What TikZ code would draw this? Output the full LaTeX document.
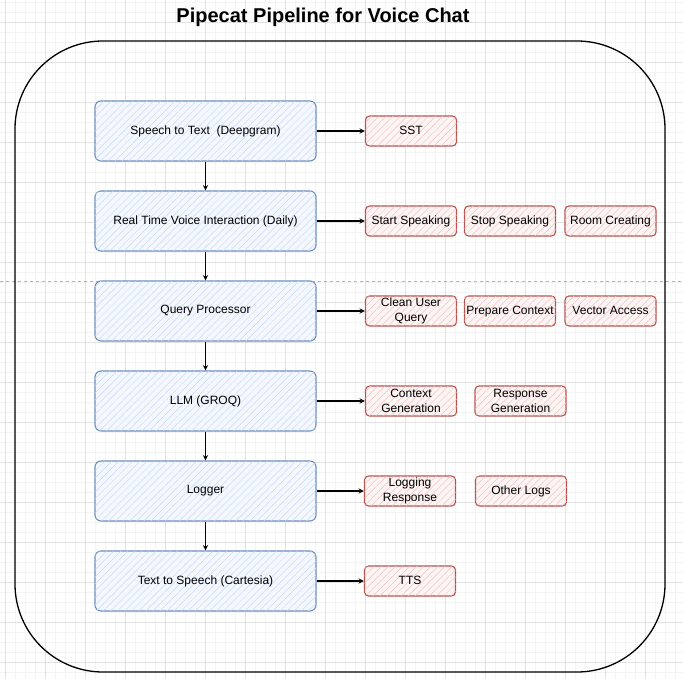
\documentclass[tikz,border=0pt]{standalone}
\usepackage{fontspec}
\setmainfont{Liberation Sans}
\usetikzlibrary{patterns.meta}
\definecolor{stageline}{HTML}{6C8EBF}
\definecolor{stagefill}{HTML}{F4F8FE}
\definecolor{stagehatch}{HTML}{C9DBF5}
\definecolor{taskline}{HTML}{B85450}
\definecolor{taskfill}{HTML}{FDF4F4}
\definecolor{taskhatch}{HTML}{F4C3C1}
\definecolor{minorgrid}{HTML}{F4F4F4}
\definecolor{majorgrid}{HTML}{E2E2E2}

\begin{document}
\begin{tikzpicture}[x=1pt,y=-1pt,>=stealth,
        stagebox/.style={draw=stageline,line width=1.1pt,rounded corners=6pt,fill=stagefill,
            postaction={pattern={Lines[angle=45,distance=5pt,line width=0.5pt]},pattern color=stagehatch},
            minimum width=221pt,minimum height=60pt,font=\fontsize{12}{14.5}\selectfont},
        taskbox/.style={draw=taskline,line width=1.1pt,rounded corners=4pt,fill=taskfill,
            postaction={pattern={Lines[angle=45,distance=5pt,line width=0.5pt]},pattern color=taskhatch},
            minimum width=91pt,minimum height=30pt,inner sep=1pt,align=center,
            text height=8.6pt,text depth=2.4pt,font=\fontsize{12}{14.5}\selectfont},
        twoline/.style={text height=,text depth=},
        flow/.style={->,line width=1.4pt}]
        % 绘制背景网格
        \useasboundingbox(0,0)rectangle(683,679);
        \fill[white](0,0)rectangle(683,679);
        \foreach \x in {5,15,...,675} \draw[minorgrid,line width=0.6pt](\x,0)--(\x,679);
        \foreach \y in {2,12,...,672} \draw[minorgrid,line width=0.6pt](0,\y)--(683,\y);
        \foreach \x in {5,45,...,645} \draw[majorgrid,line width=0.8pt](\x,0)--(\x,679);
        \foreach \y in {22,62,...,662} \draw[majorgrid,line width=0.8pt](0,\y)--(683,\y);
        \draw[gray!60,dashed,line width=0.7pt](0,281)--(683,281);
        % 绘制标题和外框
        \node[font=\fontsize{20}{24}\selectfont\bfseries](title)at(323,17){Pipecat Pipeline for Voice Chat};
        \draw[line width=1.3pt,rounded corners=88pt](15,41)rectangle(665,672);
        % 绘制流水线各阶段
        \node[stagebox](stt)at(205.5,131){Speech to Text\ \ (Deepgram)};
        \node[stagebox](daily)at(205.5,221){Real Time Voice Interaction (Daily)};
        \node[stagebox](query)at(205.5,311){Query Processor};
        \node[stagebox](llm)at(205.5,401){LLM (GROQ)};
        \node[stagebox](logger)at(205.5,491){Logger};
        \node[stagebox](tts)at(205.5,581){Text to Speech (Cartesia)};
        % 绘制各阶段的任务
        \node[taskbox](sst)at(411,131){SST};
        \node[taskbox](start)at(411,221){Start Speaking};
        \node[taskbox](stop)at(510,221){Stop Speaking};
        \node[taskbox](room)at(610.5,221){Room Creating};
        \node[taskbox,twoline](clean)at(411,311){Clean User\\Query};
        \node[taskbox](prepare)at(510,311){Prepare Context};
        \node[taskbox](vector)at(610.5,311){Vector Access};
        \node[taskbox,twoline](context)at(411,401){Context\\Generation};
        \node[taskbox,twoline](response)at(520.5,401){Response\\Generation};
        \node[taskbox,twoline](logresp)at(410,491){Logging\\Response};
        \node[taskbox](otherlogs)at(521,491){Other Logs};
        \node[taskbox](ttstask)at(410,581){TTS};
        % 绘制箭头
        \draw[flow](stt)--(daily);
        \draw[flow](daily)--(query);
        \draw[flow](query)--(llm);
        \draw[flow](llm)--(logger);
        \draw[flow](logger)--(tts);
        \draw[flow](stt.east)--(sst.west);
        \draw[flow](daily.east)--(start.west);
        \draw[flow](query.east)--(clean.west);
        \draw[flow](llm.east)--(context.west);
        \draw[flow](logger.east)--(logresp.west);
        \draw[flow](tts.east)--(ttstask.west);
    \end{tikzpicture}
\end{document}
